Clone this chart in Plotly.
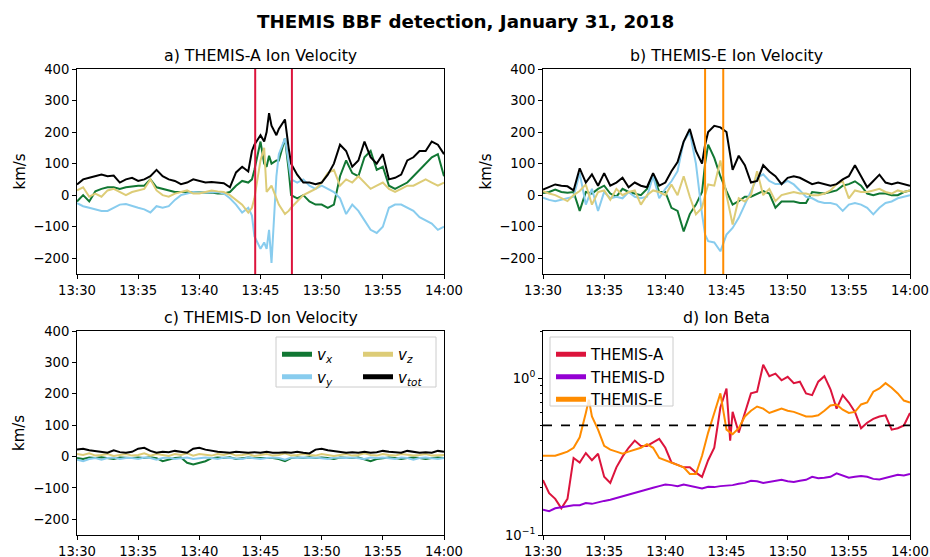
import numpy as np
import pandas as pd
import plotly.graph_objects as go

# ---------------- DATA ----------------
BASE = "2018-01-31 13:30:00"

# THEMIS-A ion velocity (minutes after 13:30)
tA = [0,0.5,1,1.5,2,2.5,3,3.5,4,4.5,5,5.5,6,6.5,7,7.5,8,8.5,9,9.5,10,10.5,11,11.5,12,12.5,13,13.5,14,
      14.3,14.5,15,15.3,15.5,15.7,15.9,16.3,16.5,17,17.3,17.5,
      18,18.5,19,19.5,20,20.5,21,21.5,22,22.5,23,23.5,24,24.5,25,25.5,26,26.5,27,27.5,28,28.5,29,29.5,30]
A_vx = [-20,0,-20,12,20,25,25,20,25,28,30,30,50,25,20,15,10,10,10,8,10,8,8,5,5,10,30,45,40,
        50,80,170,100,90,125,100,110,110,180,80,0,
        -10,0,-20,-30,-30,-40,-30,60,110,70,60,120,140,80,90,30,20,30,40,60,80,100,120,130,60]
A_vy = [-25,-35,-40,-45,-50,-50,-40,-30,-28,-35,-40,-45,-55,-35,-40,-35,-15,0,5,10,8,8,10,10,5,-10,-30,-55,-40,
        -65,-130,-170,-150,-170,-110,-215,60,130,180,100,50,
        40,50,30,20,30,20,10,-10,-60,-30,-50,-80,-110,-120,-100,-40,-30,-30,-40,-50,-70,-80,-90,-110,-100]
A_vz = [15,25,-5,5,-5,15,20,10,0,10,15,20,50,15,0,-5,5,10,15,5,5,10,15,12,10,0,-15,-30,-55,
        -40,-10,110,150,10,20,30,-10,-30,-60,-50,-40,
        -20,0,10,20,40,70,80,30,50,40,60,40,20,30,40,20,10,20,30,30,40,50,40,30,40]
A_vtot = [34,50,55,60,65,60,62,40,50,55,45,50,60,80,60,50,45,35,40,50,45,40,42,40,38,25,72,90,75,
          140,160,190,170,200,260,220,190,210,240,150,100,
          65,40,40,35,40,65,100,160,140,90,110,170,120,100,130,50,55,65,110,120,140,140,170,160,130]

# THEMIS-E ion velocity
tE = [0,0.5,1,1.5,2,2.5,3,3.5,4,4.5,5,5.5,6,6.5,7,7.5,8,8.5,9,9.5,10,10.5,11,11.5,12,12.5,13,
      13.25,13.5,14,14.5,15,
      15.5,16,16.5,17,17.5,18,18.5,19,19.5,20,20.5,21,21.5,22,22.5,23,23.5,24,24.5,25,25.5,26,26.5,27,27.5,28,28.5,29,29.5,30]
E_vx = [7,10,18,10,8,10,-50,10,5,20,30,5,-5,20,10,5,0,20,65,10,10,-40,-50,-115,-60,-30,10,
        100,160,118,60,13,
        -30,-19,-5,-5,5,13,5,-40,-20,-20,-20,-25,-25,10,8,5,10,15,30,35,44,30,5,0,5,5,0,0,10,15]
E_vy = [-8,-15,-19,-15,-10,-5,70,-30,20,-50,10,-10,-5,-10,10,-5,-10,-5,60,-10,20,44,76,170,200,100,-60,
        -125,-146,-150,-178,-125,
        -104,-72,-30,13,55,66,45,35,35,45,34,15,-5,-10,-20,-25,-25,-30,-50,-30,-25,-30,-40,-61,-40,-25,-20,-10,-5,0]
E_vz = [13,5,0,-10,-19,0,13,34,-30,10,15,-15,20,0,10,15,-30,0,15,10,0,34,0,60,-5,-61,-40,
        0,34,30,110,0,
        -93,-10,-20,0,76,0,20,-19,0,5,10,5,5,0,0,5,15,35,44,-10,15,10,10,15,20,10,5,15,10,15]
E_vtot = [18,25,34,30,28,15,85,40,66,30,70,30,40,55,25,40,30,25,70,30,40,76,105,170,210,140,100,
          160,200,220,215,200,
          80,125,95,40,45,95,75,60,35,55,60,55,45,35,40,35,30,35,50,60,95,60,25,45,65,40,35,40,35,30]

# THEMIS-D ion velocity (every 30 s)
tD = [i * 0.5 for i in range(61)]
D_vx = [-5,-8,-3,-5,-2,-5,-8,-3,-5,-5, -3,-5,-2,-5,-15,-10,-5,-3,-20,-25,
        -20,-15,-5,-3,-5,-2,-8,-5,-3,-5, -5,-3,-5,-8,-15,-5,-3,-5,-2,-5,
        -3,-5,-8,-3,-5,-5,-3,-10,-15,-8, -5,-3,-5,-8,-5,-3,-5,-8,-5,-3, -5]
D_vy = [-10,-15,-8,-5,-10,-5,-3,-8,-5,-5, -8,-3,-5,-10,-5,-3,-8,-5,-3,-8,
        -5,-3,-5,-8,-3,-5,-5,-8,-3,-5, -8,-5,-3,-5,-10,-3,-5,-3,-5,-3,
        -5,-8,-3,-5,-5,-3,-5,-8,-3,-5, -3,-5,-8,-3,-5,-10,-5,-3,-5,-8, -5]
D_vz = [8,5,10,3,5,8,2,5,8,3, 5,10,3,8,5,2,8,5,10,3,
        8,5,3,8,5,10,3,5,8,2, 5,8,3,5,10,3,5,8,5,3,
        8,5,2,5,8,3,5,10,5,3, 8,5,3,8,5,3,5,8,3,5, 5]
D_vtot = [22,25,20,18,15,12,20,14,12,15, 25,28,18,12,15,14,18,15,12,25,
          28,22,18,15,14,12,15,13,12,14, 12,15,12,12,14,12,15,12,10,22,
          25,20,18,15,12,14,12,15,12,14, 18,15,14,12,18,15,12,14,12,18, 15]

# Ion beta
tBA = [i * 0.5 for i in range(31)] + [15.3] + [15.5 + i * 0.5 for i in range(30)]
beta_A = [0.224,0.185,0.17,0.148,0.17,0.31,0.29,0.333,0.30,0.33,
          0.235,0.215,0.27,0.316,0.36,0.40,0.37,0.37,0.39,0.41,
          0.36,0.29,0.28,0.27,0.27,0.25,0.235,0.30,0.36,0.65, 0.86,
          0.40,
          0.61,0.45,0.60,0.80,0.82,1.22,1.03,1.07,0.97,1.02,
          0.93,0.95,0.80,0.78,0.95,1.03,0.85,0.64,0.78,0.70,
          0.61,0.48,0.52,0.55,0.57,0.58,0.47,0.48,0.50,0.60]
tBD = [i * 0.5 for i in range(61)]
beta_D = [0.145,0.142,0.148,0.150,0.152,0.155,0.155,0.160,0.158,0.162,
          0.165,0.168,0.172,0.176,0.180,0.185,0.190,0.195,0.200,0.205,
          0.210,0.208,0.205,0.210,0.206,0.200,0.198,0.203,0.202,0.205,
          0.206,0.208,0.212,0.215,0.222,0.220,0.215,0.218,0.222,0.225,
          0.220,0.218,0.222,0.225,0.235,0.230,0.232,0.235,0.247,0.240,
          0.232,0.235,0.238,0.235,0.228,0.226,0.232,0.238,0.242,0.240, 0.245]
tBE = [0,0.5,1,1.5,2,2.5,3,3.5,3.75] + [4 + i * 0.5 for i in range(53)]
beta_E = [0.32,0.32,0.32,0.33,0.34,0.36,0.42,0.60,0.73,
          0.57,0.47,0.37,0.35,0.34,0.33,0.34,0.35,0.36,0.38,0.36,0.31,0.30,0.29,0.28,0.27,0.245,0.245,0.32,0.45,0.60,0.80,
          0.47,0.44,0.48,0.57,0.62,0.66,0.64,0.60,0.62,0.64,
          0.62,0.61,0.59,0.57,0.57,0.58,0.62,0.67,0.68,0.63,
          0.60,0.61,0.68,0.70,0.82,0.86,0.93,0.87,0.80,0.72,0.70]
beta_ref = 0.5

# BBF interval markers
A_marks = ["2018-01-31 13:44:34", "2018-01-31 13:47:34"]
E_marks = ["2018-01-31 13:43:15", "2018-01-31 13:44:44"]

# ---------------- STYLE ----------------
C_VX, C_VY, C_VZ, C_VT = "#117733", "#88CCEE", "#DDCC77", "#000000"
C_A, C_D, C_E = "#DC143C", "#9400D3", "#FF8C00"
FONT = "DejaVu Sans"
W, H = 930, 557
TICK_FS = 13.2


def tt(m):
    return pd.Timestamp(BASE) + pd.to_timedelta(np.array(m, dtype=float), unit="min")


def px_x(p):
    return p / W


def px_y(p):
    return (H - p) / H


fig = go.Figure()

panels = [("x", "y", tA, A_vx, A_vy, A_vz, A_vtot),
          ("x2", "y2", tE, E_vx, E_vy, E_vz, E_vtot),
          ("x3", "y3", tD, D_vx, D_vy, D_vz, D_vtot)]
for xa, ya, t, vx, vy, vz, vt in panels:
    x = tt(t)
    for vals, col in [(vx, C_VX), (vy, C_VY), (vz, C_VZ), (vt, C_VT)]:
        fig.add_trace(go.Scatter(x=x, y=vals, mode="lines", line=dict(color=col, width=2),
                                 xaxis=xa, yaxis=ya, showlegend=False, hoverinfo="skip"))

for t, vals, col in [(tBA, beta_A, C_A), (tBD, beta_D, C_D), (tBE, beta_E, C_E)]:
    fig.add_trace(go.Scatter(x=tt(t), y=vals, mode="lines", line=dict(color=col, width=2),
                             xaxis="x4", yaxis="y4", showlegend=False, hoverinfo="skip"))

# legend-only entries (thick samples)
leg_items = [("<i>v</i><sub><i>x</i></sub>", C_VX, "legend"),
             ("<i>v</i><sub><i>y</i></sub>", C_VY, "legend"),
             ("<i>v</i><sub><i>z</i></sub>", C_VZ, "legend2"),
             ("<i>v</i><sub><i>tot</i></sub>", C_VT, "legend2"),
             ("THEMIS-A", C_A, "legend3"),
             ("THEMIS-D", C_D, "legend3"),
             ("THEMIS-E", C_E, "legend3")]
for name, col, lg in leg_items:
    fig.add_trace(go.Scatter(x=[None], y=[None], mode="lines", name=name,
                             line=dict(color=col, width=5), legend=lg,
                             xaxis="x4" if lg == "legend3" else "x3",
                             yaxis="y4" if lg == "legend3" else "y3"))

# ---------------- AXES ----------------
xd = {"a": (77, 444), "b": (543, 910)}
ytop = (69, 274)
ybot = (331, 535)

xrange_ = [pd.Timestamp(BASE), pd.Timestamp(BASE) + pd.Timedelta(minutes=30)]
common_x = dict(type="date", range=xrange_, tickformat="%H:%M", dtick=5 * 60 * 1000,
                tick0=BASE, ticks="outside", ticklen=4, tickwidth=1, tickcolor="black",
                showline=True, mirror=True, linecolor="black", linewidth=1, automargin=False,
                showgrid=False, zeroline=False, tickfont=dict(size=TICK_FS, color="black"))
common_yv = dict(range=[-250, 400], tickvals=[-200, -100, 0, 100, 200, 300, 400],
                 ticks="outside", ticklen=4, tickwidth=1, tickcolor="black", automargin=False,
                 showline=True, mirror=True, linecolor="black", linewidth=1,
                 showgrid=False, zeroline=False, tickfont=dict(size=TICK_FS, color="black"))


def dom_x(a):
    return [px_x(a[0]), px_x(a[1])]


def dom_y(a):
    return [px_y(a[1]), px_y(a[0])]


fig.update_layout(
    xaxis=dict(domain=dom_x(xd["a"]), anchor="y", **common_x),
    yaxis=dict(domain=dom_y(ytop), anchor="x", **common_yv),
    xaxis2=dict(domain=dom_x(xd["b"]), anchor="y2", **common_x),
    yaxis2=dict(domain=dom_y(ytop), anchor="x2", **common_yv),
    xaxis3=dict(domain=dom_x(xd["a"]), anchor="y3", **common_x),
    yaxis3=dict(domain=dom_y(ybot), anchor="x3", **common_yv),
    xaxis4=dict(domain=dom_x(xd["b"]), anchor="y4", **common_x),
    yaxis4=dict(domain=dom_y(ybot), anchor="x4", type="log", range=[-1, np.log10(2.0)],
                tickvals=[0.1, 1.0], ticktext=["10<sup>−1</sup>", "10<sup>0</sup>"],
                ticks="outside", ticklen=4, tickwidth=1, tickcolor="black", automargin=False,
                minor=dict(tickvals=[0.2, 0.3, 0.4, 0.5, 0.6, 0.7, 0.8, 0.9, 2.0],
                           ticks="outside", ticklen=2, tickwidth=0.8, tickcolor="black"),
                showline=True, mirror=True, linecolor="black", linewidth=1,
                showgrid=False, zeroline=False, tickfont=dict(size=TICK_FS, color="black")),
)

# ---------------- SHAPES ----------------
shapes = []
for m in A_marks:
    shapes.append(dict(type="line", xref="x", yref="y domain", x0=m, x1=m, y0=0, y1=1,
                       line=dict(color=C_A, width=2)))
for m in E_marks:
    shapes.append(dict(type="line", xref="x2", yref="y2 domain", x0=m, x1=m, y0=0, y1=1,
                       line=dict(color=C_E, width=2)))
shapes.append(dict(type="line", xref="x4 domain", yref="y4", x0=0, x1=1, y0=beta_ref, y1=beta_ref,
                   line=dict(color="black", width=1.6, dash="dash")))
# legend frames
shapes.append(dict(type="rect", xref="paper", yref="paper", x0=px_x(276), x1=px_x(436),
                   y0=px_y(387), y1=px_y(337), line=dict(color="#cccccc", width=1),
                   fillcolor="rgba(255,255,255,0.8)", layer="above"))
shapes.append(dict(type="rect", xref="paper", yref="paper", x0=px_x(550), x1=px_x(673),
                   y0=px_y(406), y1=px_y(337), line=dict(color="#cccccc", width=1),
                   fillcolor="rgba(255,255,255,0.8)", layer="above"))

# ---------------- ANNOTATIONS ----------------
ann = [dict(text="<b>THEMIS BBF detection, January 31, 2018</b>", x=0.5, y=px_y(21),
            xref="paper", yref="paper", showarrow=False, font=dict(size=18.3, color="black"),
            xanchor="center", yanchor="middle")]
subt = [("a) THEMIS-A Ion Velocity", xd["a"], 55), ("b) THEMIS-E Ion Velocity", xd["b"], 55),
        ("c) THEMIS-D Ion Velocity", xd["a"], 318), ("d) Ion Beta", xd["b"], 318)]
for txt, xa, yp in subt:
    ann.append(dict(text=txt, x=px_x((xa[0] + xa[1]) / 2), y=px_y(yp), xref="paper", yref="paper",
                    showarrow=False, font=dict(size=15.8, color="black"), xanchor="center", yanchor="middle"))
for xp, yc in [(19, (69 + 274) / 2), (485, (69 + 274) / 2), (19, (331 + 535) / 2)]:
    ann.append(dict(text="km/s", x=px_x(xp), y=px_y(yc), xref="paper", yref="paper", showarrow=False,
                    textangle=-90, font=dict(size=15, color="black"), xanchor="center", yanchor="middle"))

leg_common = dict(bgcolor="rgba(0,0,0,0)", borderwidth=0, font=dict(size=15, color="black"),
                  xanchor="left", yanchor="top", orientation="v", itemwidth=30,
                  tracegroupgap=0, itemclick=False, itemdoubleclick=False)

fig.update_layout(
    width=W, height=H, margin=dict(l=0, r=0, t=0, b=0, autoexpand=False),
    paper_bgcolor="white", plot_bgcolor="white",
    font=dict(family=FONT, color="black"),
    shapes=shapes, annotations=ann,
    legend=dict(x=px_x(277), y=px_y(338), **leg_common),
    legend2=dict(x=px_x(358), y=px_y(338), **leg_common),
    legend3=dict(x=px_x(551), y=px_y(338), **leg_common),
)

fig.write_html("out.html")
